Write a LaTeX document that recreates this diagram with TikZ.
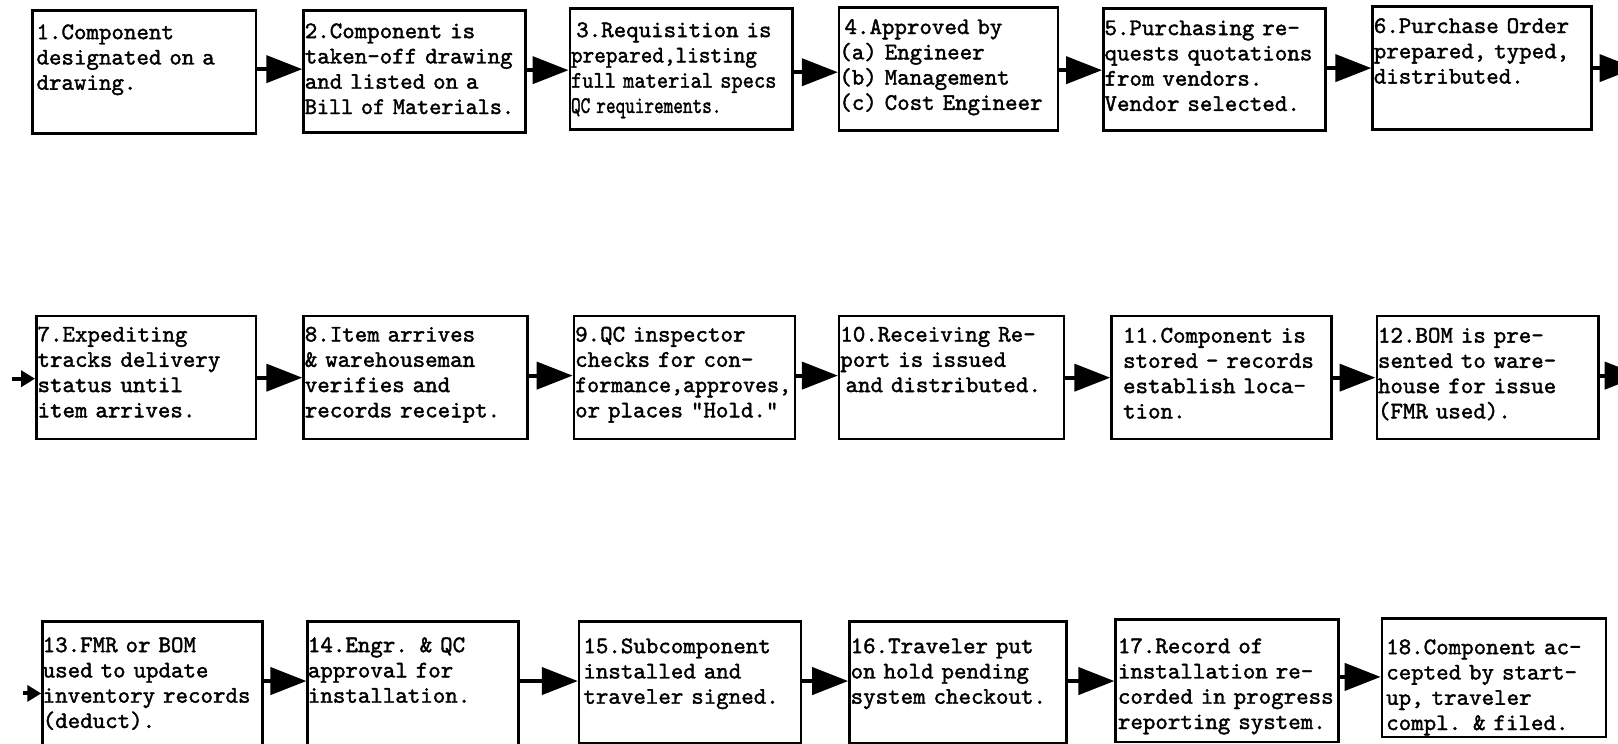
\documentclass[tikz,border=0pt]{standalone}
\usepackage{fontspec}
\usepackage{graphicx}
\usetikzlibrary{arrows.meta,calc}
\newfontfamily\twfont{lmmono10-regular.otf}[FakeBold=1.6]
% horizontally condensed line, for lines typed tighter than the rest
\newcommand\hsq[2]{\scalebox{#1}[1]{#2}}
\tikzset{
  box/.style={draw, line width=1.3pt, inner sep=0pt, anchor=north west},
  txt/.style={inner sep=0pt, anchor=base west, align=left, text width=150pt,
    font=\twfont\fontsize{11.9}{12.64}\selectfont},
  arr/.style={draw, line width=2pt, -{Triangle[length=18pt,width=13.5pt]}},
  arrsmall/.style={draw, line width=2pt, -{Triangle[length=7pt,width=8pt]}}
}
% box: name, left, top, right, bottom (y downwards)
\newcommand\stepbox[5]{%
  \node[box, minimum width={(#4-#2)*0.516pt}, minimum height={(#5-#3)*0.516pt}] (b#1) at (#2,#3) {};}
% text: box name, dx, dy of first baseline, content
\newcommand\boxtext[4]{%
  \node[txt] (t#1) at ($(b#1.north west)+(#2,#3)$) {#4};}
% horizontal connector between two boxes at height y
\newcommand\link[3]{%
  \coordinate (l#1) at (0,#3);
  \draw[arr] (b#1.east |- l#1) -- (b#2.west |- l#1);}
\begin{document}
\begin{tikzpicture}[x=0.516pt,y=-0.516pt]
\path[use as bounding box] (0,0) rectangle (1568,721);
\clip (0,0) rectangle (1568,721);
\fill[white] (0,0) rectangle (1568,721);

% first row
\stepbox{1}{30}{9}{247}{128}
\stepbox{2}{293}{9}{508}{127}
\stepbox{3}{551}{7}{767}{124}
\stepbox{4}{812}{6}{1024}{125}
\stepbox{5}{1068}{7}{1283}{125}
\stepbox{6}{1329}{5}{1541}{124}
% second row
\stepbox{7}{34}{305}{247}{424}
\stepbox{8}{293}{305}{510}{424}
\stepbox{9}{555}{305}{769}{424}
\stepbox{10}{812}{305}{1030}{424}
\stepbox{11}{1076}{305}{1289}{424}
\stepbox{12}{1333}{305}{1548}{424}
% third row
\stepbox{13}{40}{601}{253}{740}
\stepbox{14}{297}{601}{501}{740}
\stepbox{15}{560}{601}{775}{719}
\stepbox{16}{822}{601}{1032}{719}
\stepbox{17}{1080}{599}{1296}{718}
\stepbox{18}{1338}{598}{1555}{713}

\boxtext{1}{5}{29}{1.Component\\designated on a\\drawing.}
\boxtext{2}{2}{28}{2.Component is\\taken-off drawing\\and listed on a\\\hsq{0.97}{Bill of Materials.}}
\boxtext{3}{2}{29}{\hspace{2.6pt}3.Requisition is\\\hsq{0.93}{prepared,listing}\\\hsq{0.9}{full material specs}\\\hsq{0.77}{QC requirements.}}
\boxtext{4}{1}{27}{\hspace{2.6pt}4.Approved by\\(a) Engineer\\(b) Management\\(c) Cost Engineer}
\boxtext{5}{2}{27}{5.Purchasing re-\\quests quotations\\from vendors.\\Vendor selected.}
\boxtext{6}{2}{27}{6.Purchase Order\\prepared, typed,\\distributed.}
\boxtext{7}{2}{26}{7.Expediting\\tracks delivery\\status until\\item arrives.}
\boxtext{8}{2}{26}{8.Item arrives\\\& warehouseman\\verifies and\\records receipt.}
\boxtext{9}{2}{26}{9.QC inspector\\checks for con-\\\hsq{0.96}{formance,approves,}\\or places "Hold."}
\boxtext{10}{2}{26}{10.Receiving Re-\\port is issued\\\hspace{2.6pt}and distributed.}
\boxtext{11}{12}{27}{11.Component is\\stored - records\\establish loca-\\tion.}
\boxtext{12}{2}{27}{12.BOM is pre-\\sented to ware-\\house for issue\\(FMR used).}
\boxtext{13}{1}{31}{13.FMR or BOM\\used to update\\inventory records\\(deduct).}
\boxtext{14}{1}{31}{14.Engr. \& QC\\approval for\\installation.}
\boxtext{15}{5}{32}{15.Subcomponent\\installed and\\traveler signed.}
\boxtext{16}{2}{32}{16.Traveler put\\on hold pending\\system checkout.}
\boxtext{17}{3}{34}{17.Record of\\installation re-\\corded in progress\\reporting system.}
\boxtext{18}{5}{36}{18.Component ac-\\cepted by start-\\up, traveler\\compl. \& filed.}

% connectors
\link{1}{2}{67}
\link{2}{3}{68}
\link{3}{4}{70}
\link{4}{5}{68}
\link{5}{6}{66}
\link{7}{8}{366}
\link{8}{9}{364}
\link{9}{10}{364}
\link{10}{11}{366}
\link{11}{12}{366}
\link{13}{14}{660}
\link{14}{15}{660}
\link{15}{16}{660}
\link{16}{17}{660}
\link{17}{18}{656}

% row ends running off the page and row starts coming in
\coordinate (out6) at (1585,66);
\draw[arr] (b6.east |- out6) -- (out6);
\coordinate (out12) at (1590,364);
\draw[arr] (b12.east |- out12) -- (out12);
\coordinate (in7) at (12,367);
\draw[arrsmall] (in7) -- (b7.west |- in7);
\coordinate (in13) at (22,672);
\draw[arrsmall] (in13) -- (b13.west |- in13);
\end{tikzpicture}
\end{document}
